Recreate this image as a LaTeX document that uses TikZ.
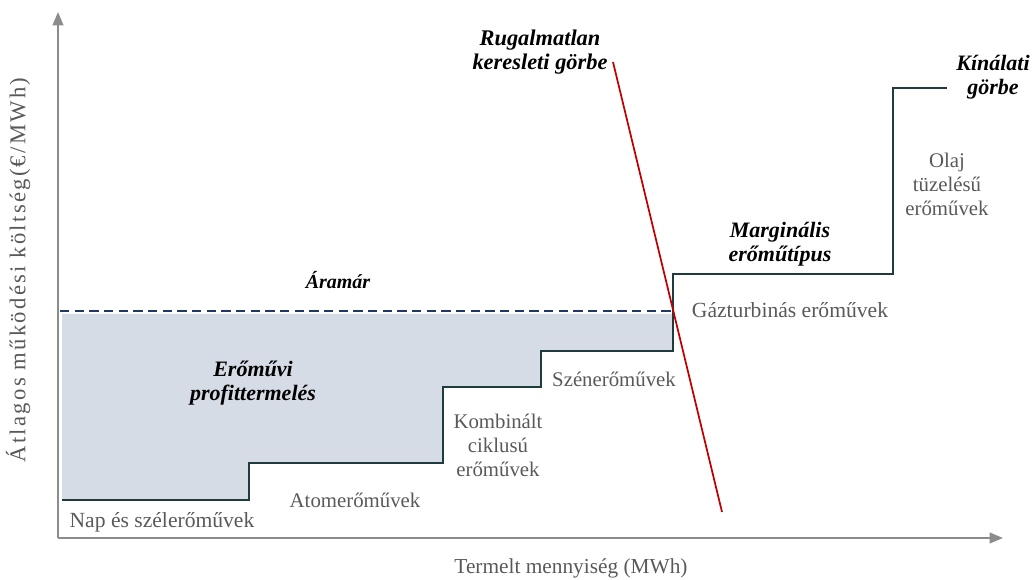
\documentclass[tikz,border=0pt]{standalone}
\usepackage{fontspec}
\setmainfont{Liberation Serif}
\usetikzlibrary{arrows.meta,positioning}
\definecolor{stepline}{HTML}{1F3B3B}
\definecolor{priceline}{HTML}{1F3864}
\definecolor{profitfill}{HTML}{D6DCE5}
\definecolor{demandred}{HTML}{C00000}
\definecolor{labelgray}{HTML}{595959}
\definecolor{axisgray}{HTML}{8C8C8C}
\tikzset{
	every picture/.style={
		>={Triangle[length=10pt,width=8pt]},
		x=0.75pt,y=-0.75pt
	},
	plantlbl/.style={text=labelgray,font=\fontsize{15.6}{18}\selectfont,
		align=center,inner sep=0pt},
	keylbl/.style={font=\fontsize{16.5}{18}\selectfont\bfseries\itshape,
		align=center,inner sep=0pt},
	axisline/.style={axisgray,line width=1.5pt,->},
	supply/.style={stepline,line width=1.6pt},
}
\begin{document}
\begin{tikzpicture}
\useasboundingbox (0,0) rectangle (1033,580);
% axes
\coordinate (origo) at (58,538);
\coordinate (ytop) at (58,12);
\coordinate (xend) at (1003,538);
\draw[axisline] (origo) -- (ytop);
\draw[axisline] (origo) -- (xend);
% profit area under the price
\fill[profitfill] (62,314) -- (673,314) -- (673,351) -- (541,351) -- (541,387)
  -- (443,387) -- (443,463) -- (249,463) -- (249,500) -- (62,500) -- cycle;
% price level
\coordinate (p0) at (60,311);
\coordinate (p1) at (673,311);
\draw[priceline,line width=1.3pt,dash pattern=on 7pt off 4pt] (p0) -- (p1);
% supply curve (merit order)
\draw[supply] (62,500) -- (249,500) -- (249,463) -- (443,463) -- (443,387)
  -- (541,387) -- (541,351) -- (673,351) -- (673,274) -- (893,274)
  -- (893,88) -- (947,88);
% inelastic demand
\coordinate (d0) at (613,62);
\coordinate (d1) at (722,512);
\draw[demandred,line width=1.3pt] (d0) -- (d1);
% labels
\node[plantlbl,font=\fontsize{16.2}{18}\selectfont] (nap) at (162,522) {Nap és szélerőművek};
\node[plantlbl] (atom) at (355,500) {Atomerőművek};
\node[plantlbl] (komb) at (498,445) {Kombinált\\ciklusú\\erőművek};
\node[plantlbl] (szen) at (614,379) {Szénerőművek};
\node[plantlbl,font=\fontsize{16.2}{18}\selectfont] (gaz) at (790,310) {Gázturbinás erőművek};
\node[plantlbl] (olaj) at (947,184) {Olaj\\tüzelésű\\erőművek};
\node[keylbl,font=\fontsize{15}{18}\selectfont\bfseries\itshape] (aramar) at (338,280) {Áramár};
\node[keylbl] (profit) at (253,383) {Erőművi\\profittermelés};
\node[keylbl] (margin) at (780,244) {Marginális\\erőműtípus};
\node[keylbl,font=\fontsize{16.8}{17.5}\selectfont\bfseries\itshape] (kereslet) at (540,52) {Rugalmatlan\\keresleti görbe};
\node[keylbl] (kinalat) at (993,77) {Kínálati\\görbe};
\node[plantlbl,font=\fontsize{16}{18}\selectfont] (xlbl) at (571,568) {Termelt mennyiség (MWh)};
\node[plantlbl,rotate=90,font=\fontsize{17}{18}\selectfont\addfontfeature{LetterSpace=10}] (ylbl) at (18,270) {Átlagos működési költség(€/MWh)};
\end{tikzpicture}
\end{document}
